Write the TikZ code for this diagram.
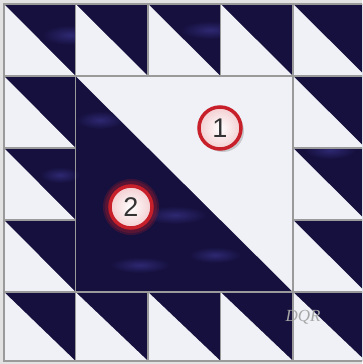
\documentclass[tikz,border=0pt]{standalone}
\usepackage{fontspec}
\setmainfont{Liberation Sans}
\newfontfamily\sigfont{Liberation Serif}
\usetikzlibrary{shadows}
\definecolor{navy}{HTML}{15103D}
\definecolor{mott}{HTML}{2E2872}
\definecolor{lite}{HTML}{EFF1F7}
\definecolor{seam}{HTML}{9A9A9A}
\definecolor{ring}{HTML}{C8202A}
\definecolor{bgc}{HTML}{E2E2E2}
\tikzset{
  seamline/.style={draw=seam, line width=1.1pt},
  litepatch/.style={fill=lite},
  blot/.style={inner color=mott, outer color=navy},
  badge/.style={circle, minimum size=42pt, inner sep=0pt, draw=ring, line width=3.5pt,
    inner color=white, outer color=ring!22, font=\fontsize{27}{27}\selectfont, text=black!80},
  shadowbadge/.style={badge, drop shadow={opacity=0.35, shadow xshift=3pt, shadow yshift=-3pt}},
  glowring/.style={fill=ring, opacity=0.22},
  sig/.style={font=\sigfont\itshape\fontsize{17}{17}\selectfont, text=gray!70},
}
\newcommand\hstri[4]{\fill[litepatch] (#1,#2) -- (#1,#4) -- (#3,#4) -- cycle;}
\begin{document}
\begin{tikzpicture}[x=1pt,y=-1pt]
\useasboundingbox (0,0) rectangle (362,364);
\clip (0,0) rectangle (362,364);
\fill[bgc] (0,0) rectangle (362,364);
% dark base of the whole block
\fill[navy] (4,4) rectangle (365.5,361);
% mottling in the dark fabric
\shade[blot] (70,35) ellipse (28 and 10);
\shade[blot] (210,30) ellipse (30 and 9);
\shade[blot] (330,150) ellipse (26 and 9);
\shade[blot] (320,60) ellipse (22 and 8);
\shade[blot] (175,215) ellipse (32 and 9);
\shade[blot] (140,265) ellipse (30 and 8);
\shade[blot] (215,255) ellipse (26 and 8);
\shade[blot] (60,175) ellipse (20 and 8);
\shade[blot] (100,120) ellipse (24 and 9);
% top row
\hstri{4}{4}{75.5}{76}
\hstri{75.5}{4}{148}{76}
\hstri{148}{4}{220.5}{76}
\hstri{220.5}{4}{293}{76}
\hstri{293}{4}{365.5}{76}
% left column
\hstri{4}{76}{75.5}{148}
\hstri{4}{148}{75.5}{220}
\hstri{4}{220}{75.5}{292}
\hstri{4}{292}{75.5}{361}
% bottom row
\hstri{75.5}{292}{148}{361}
\hstri{148}{292}{220.5}{361}
\hstri{220.5}{292}{293}{361}
\hstri{293}{292}{365.5}{361}
% right column
\hstri{293}{76}{365.5}{148}
\hstri{293}{148}{365.5}{220}
\hstri{293}{220}{365.5}{292}
% centre light half
\fill[litepatch] (75.5,76) -- (293,76) -- (293,292) -- cycle;
% seams
\draw[seamline] (4,4) rectangle (365.5,361);
\draw[seamline] (75.5,4) -- (75.5,361);
\draw[seamline] (293,4) -- (293,361);
\draw[seamline] (4,76) -- (365.5,76);
\draw[seamline] (4,292) -- (365.5,292);
\draw[seamline] (148,4) -- (148,76) (220.5,4) -- (220.5,76);
\draw[seamline] (148,292) -- (148,361) (220.5,292) -- (220.5,361);
\draw[seamline] (4,148) -- (75.5,148) (4,220) -- (75.5,220);
\draw[seamline] (293,148) -- (365.5,148) (293,220) -- (365.5,220);
% red glow round badge 2
\fill[glowring] (131,207) circle (28);
\fill[glowring] (131,207) circle (26);
% numbered badges
\node[shadowbadge] (c1) at (220,128) {1};
\node[badge] (c2) at (131,207) {2};
% signature
\node[sig] (s) at (303,317) {DQR};
\end{tikzpicture}
\end{document}
